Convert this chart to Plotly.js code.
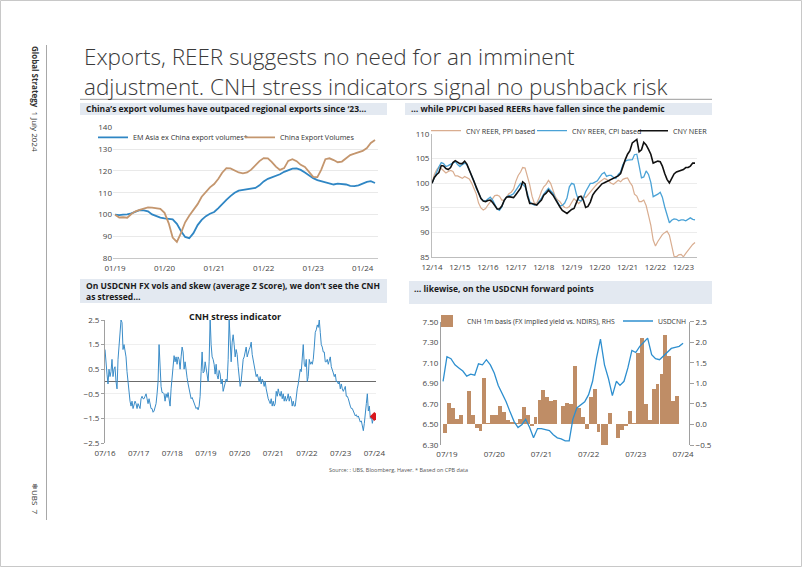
<!DOCTYPE html>
<html><head><meta charset="utf-8">
<script src="https://cdn.plot.ly/plotly-3.0.1.min.js"></script>
<style>html,body{margin:0;padding:0;background:#fff}#chart{width:802px;height:567px}</style>
</head><body><div id="chart"></div><script>
// ---------- DATA ----------
// Chart 1: export volumes, monthly from 01/2019
const c1Start = [2019, 1];
const emAsiaExChina = [100,99.8,100,100.1,100.6,101.4,102.1,102,101.5,100.1,99.2,98.6,98.3,98.2,97.8,95.8,92.5,89.8,89.2,91.5,95.2,97.6,99.3,100.4,101.2,103,105,106.8,108.5,110,111,111.3,111.4,111.6,112.2,113.4,115.2,116.4,117,117.6,118.5,119.6,120.5,121.1,121.2,120.5,119.3,118,116.7,115.8,115.3,114.6,114.2,113.8,114.2,114,113.8,113.2,113.1,113.4,114.2,115,115.3,114.5];
const chinaExportVolumes = [100,98.7,98.8,98.6,100.3,101.5,102.2,102.9,103.3,103.2,103,102.6,100.8,96,89.5,87.5,91.5,96.5,99.5,102.2,104.8,108.2,110.6,112.5,114,116.4,119.2,121.3,121.2,120.3,119.3,118.9,119.3,120.6,122.5,124.5,125.9,125.8,124.2,122,120.5,121.3,124.6,125.4,124.5,122.8,121.8,119.8,117.3,117.2,120.5,125.4,125.8,125,124,124.3,125.8,127.3,127.9,128.6,129.2,130.5,132.8,134.2];

// Chart 2: REER / NEER, monthly from 12/2014
const c2Start = [2014, 12];
const reerPPI = [100,101.8,102.8,103.3,103,102.5,102.1,102.4,102.6,102.4,101.5,101.5,101.2,101,101.4,101.2,100.9,100.1,99.1,97.9,96,95,94.6,94.9,95.6,96.3,96.9,97.5,97.6,97.4,96.6,96.6,97.2,97.9,98.2,98.8,100.4,101.6,102.3,103.2,103.1,101.5,99.7,97.4,95.9,96,97,98.4,99.3,99.8,100.6,100,98.5,97.3,96.6,96.3,95.6,95.1,95,95.3,96.1,96.9,96.4,95.9,96.4,97.4,97.1,97.7,98.4,99,99.4,99.9,100.3,100.7,101,100.8,100.4,100,99.8,100.3,100.6,100.3,100.8,101,101.1,100.2,99.5,97.8,97.4,96.3,96.3,96.6,95.5,93.5,91.5,88.5,87.3,88.2,89,89.6,90,90.3,89.5,87,85.2,85.1,85.5,85.6,85.1,85.8,86.5,87,87.6,88];
const reerCPI = [100,101.3,102.3,103.3,104.2,104,103.4,103.6,103.9,104.2,104.4,103.8,103.4,103.8,104.1,103.8,102.8,101.5,100.5,99,97.8,97,96.5,96.4,96.8,97.2,96.6,95.8,94.8,94.5,95.2,96.5,97.2,97.5,97.6,97.9,98.6,99.5,100,99.8,99.3,98,96.3,95.8,95.6,95.7,96.3,97,97.8,98.3,99,98.5,98,97,96.3,95.4,95.5,96,97,99.3,100,99.8,97.8,96.6,96.4,97,98.3,99.3,100,100,100.3,100.5,101.2,101.9,102.2,101.4,101.6,101.6,101.2,101,101.8,102.3,103.8,104.5,104.7,104.7,104.8,105.8,105.9,103.6,101.1,101.3,102.5,101.8,100.2,97.3,97.5,97.8,98.2,97.2,95.2,93.5,92,92.5,92.8,92.7,92.4,92.6,92.6,92.4,92.8,93,92.7,92.6];
const neer = [100,101.2,101.8,102.2,103.6,103.5,103,102.8,103.2,104.2,104.6,104.2,104,104,104.5,103.9,102.7,101.5,100.2,99.2,98,96.9,96.4,96.3,96.5,96.6,96.1,95.4,94.8,94.8,95.4,96.5,97.2,97.3,97.2,97.1,97.7,98.4,99,100.3,99.9,97.5,95.9,95.9,95.8,95.6,96.1,96.6,97.6,98,98.6,98.2,97.6,96.8,95.9,95.2,94.5,94.1,93.9,94.3,94.7,94.9,96.3,97.2,97.4,96.6,95.1,95.3,96.2,97.6,98.3,98.9,99.4,99.9,100.1,100.3,100.5,100.8,101,101.2,101.5,102,103.6,104.8,105.9,106.6,108.2,108.6,108.9,106.4,106.8,108.3,107.8,106.9,105.9,104.1,104.3,104.5,104.4,103.5,102,100.8,100.1,101,101.9,102.3,102.5,102.7,102.8,103.2,103.2,103.5,104.1,104.1];

// Chart 3: CNH stress indicator (average Z score), sampled every ~11 days from 07/2016
const stressStart = '2016-07-01';
const stressStepMs = 938520000;
const cnhStress = [1.3,0.5,0.3,-0.1,0.5,0.2,0.4,0.9,0.2,0.5,
0.6,0.0,-0.3,0.9,1.6,2.0,2.5,2.4,1.3,1.5,
1.3,1.0,0.4,0.0,-0.6,-0.8,-1.0,-0.8,-1.1,-0.9,
-0.8,-0.9,-1.1,-0.9,-1.05,-1.1,-0.7,-0.6,-0.7,-0.7,
-0.6,-0.5,-0.7,-0.9,-0.7,-1.0,-1.1,-1.1,-1.25,-1.2,
-1.0,-0.9,-0.5,0.0,1.5,0.4,-0.2,-0.45,-0.45,-0.5,
-0.8,-0.5,-0.65,-0.45,-0.7,-1.0,-0.3,0.3,0.7,1.05,
0.8,1.0,0.7,1.0,0.9,0.5,1.0,1.4,1.2,0.5,
0.8,0.4,0.15,-0.1,-0.35,-0.5,-0.7,-0.65,-0.75,-0.85,
-1.0,-1.1,-1.05,-1.15,-1.0,-0.6,0.4,1.2,0.35,0.4,
0.8,0.5,0.1,0.0,0.8,2.6,1.5,1.0,0.9,0.7,
0.3,0.7,0.25,0.1,0.45,0.3,-0.1,0.1,-0.4,-0.2,
-0.1,0.1,0.0,0.9,2.55,1.6,0.8,1.6,1.9,1.5,
1.0,1.3,1.1,0.6,0.1,-0.2,0.0,0.5,0.9,1.0,
1.2,1.4,1.0,1.2,1.3,1.4,1.6,1.1,0.9,0.6,
0.4,0.2,0.3,0.1,0.0,0.2,-0.1,0.1,0.0,-0.2,
0.0,-0.3,-0.6,-0.7,-0.8,-0.9,-0.7,-1.0,-0.8,-1.0,
-0.9,-0.4,-0.6,-0.3,-0.5,-0.6,-0.4,-0.7,-0.5,-0.8,
-0.6,-0.8,-0.7,-0.5,-0.8,-0.6,-0.7,-1.0,-0.8,-1.0,
-1.0,-0.6,-0.3,-0.1,0.3,0.5,0.4,1.2,1.5,0.7,
0.6,0.9,0.0,0.2,0.9,0.7,0.8,0.7,0.9,1.4,
2.0,2.1,2.3,2.2,2.5,2.0,1.5,1.4,1.2,1.2,
0.8,0.8,0.9,0.7,0.9,1.0,0.6,0.5,0.35,0.2,
0.3,0.0,0.0,-0.1,0.0,-0.3,-0.1,-0.3,-0.4,-0.3,
-0.2,-0.6,-0.6,-0.7,-0.9,-1.0,-1.1,-1.1,-1.2,-1.3,
-1.4,-1.35,-1.45,-1.4,-1.5,-1.65,-1.6,-1.85,-2.0,-1.7,
-1.4,-0.9,-0.5,-1.2,-1.0,-1.5,-1.4,-1.7,-1.5,-1.5,
-1.45];
const stressLatestDate = ['2024-07-01'];
const stressLatest = [-1.42];

// Chart 4: CNH 1m basis (monthly bars from 06/2019) and USDCNH (monthly from 06/2019)
const c4Start = [2019, 6];
const cnhBasis = [-0.22,0.52,0.40,0.13,0.23,0.0,0.82,0.23,-0.09,-0.16,1.14,0.03,0.23,0.23,0.44,0.30,0.12,0.05,0.03,0.14,0.43,0.23,-0.04,0.17,0.60,0.84,0.66,0.56,0.60,0.0,0.46,0.52,0.49,1.42,0.39,0.17,-0.11,0.68,0.87,-0.18,-0.55,-0.55,0.27,0.0,-0.32,-0.14,-0.03,0.32,0.03,1.73,2.1,0.5,0.1,0.87,0.99,1.22,2.18,1.67,0.58,0.7];
const usdcnh = [6.92,7.16,7.14,7.08,7.05,7.02,6.97,6.99,6.98,7.09,7.08,7.13,7.08,7.00,6.88,6.80,6.72,6.62,6.53,6.47,6.50,6.55,6.47,6.37,6.46,6.46,6.45,6.44,6.40,6.37,6.36,6.34,6.34,6.55,6.66,6.69,6.72,6.79,6.92,7.15,7.33,7.08,6.95,6.78,6.92,6.88,6.92,7.05,7.22,7.20,7.26,7.30,7.34,7.18,7.14,7.13,7.17,7.21,7.24,7.25,7.26,7.29];

// ---------- helpers ----------
function monthSeq(start, n){
  const out=[];
  for(let i=0;i<n;i++){
    const mm = start[1]-1+i;
    const yy = start[0]+Math.floor(mm/12);
    const mo = (mm%12)+1;
    out.push(yy+'-'+String(mo).padStart(2,'0')+'-01');
  }
  return out;
}
const W=802, H=567;
const X=p=>p/W, Y=p=>1-p/H;
const F='"Open Sans", "Noto Sans", sans-serif';
const tickFont={family:F,size:8,color:'#444'};
const legFont={family:F,size:7.2,color:'#333'};

const c1x = monthSeq(c1Start, emAsiaExChina.length);
const c2x = monthSeq(c2Start, neer.length);
const c4xBars = monthSeq(c4Start, cnhBasis.length);
const c4xLine = monthSeq(c4Start, usdcnh.length);

const data = [
  {type:'scatter',mode:'lines',name:'EM Asia ex China export volumes*',x:c1x,y:emAsiaExChina,xaxis:'x',yaxis:'y',line:{color:'#2f86c4',width:1.8},legend:'legend'},
  {type:'scatter',mode:'lines',name:'China Export Volumes',x:c1x,y:chinaExportVolumes,xaxis:'x',yaxis:'y',line:{color:'#c4966e',width:1.8},legend:'legend2'},

  {type:'scatter',mode:'lines',name:'CNY REER, PPI based',x:c2x,y:reerPPI,xaxis:'x2',yaxis:'y2',line:{color:'#d9ad90',width:1.2},legend:'legend3'},
  {type:'scatter',mode:'lines',name:'CNY REER, CPI based',x:c2x,y:reerCPI,xaxis:'x2',yaxis:'y2',line:{color:'#4aa2d6',width:1.3},legend:'legend4'},
  {type:'scatter',mode:'lines',name:'CNY NEER',x:c2x,y:neer,xaxis:'x2',yaxis:'y2',line:{color:'#111111',width:1.6},legend:'legend5'},

  {type:'scatter',mode:'lines',name:'CNH stress indicator',x0:stressStart,dx:stressStepMs,y:cnhStress,xaxis:'x3',yaxis:'y3',line:{color:'#3a8cc8',width:1},showlegend:false},
  {type:'scatter',mode:'markers',name:'latest',x:stressLatestDate,y:stressLatest,xaxis:'x3',yaxis:'y3',marker:{symbol:'diamond',size:7,color:'#d9171e'},showlegend:false},

  {type:'bar',name:'CNH 1m basis (FX implied yield vs. NDIRS), RHS',x:c4xBars,y:cnhBasis,xperiod:'M1',xperiodalignment:'middle',xaxis:'x4',yaxis:'y4',marker:{color:'#bf8d66',line:{width:0}},width:2600000000,legend:'legend6'},
  {type:'scatter',mode:'lines',name:'USDCNH',x:c4xLine,y:usdcnh,xaxis:'x4',yaxis:'y5',line:{color:'#2e8fcf',width:1.3},legend:'legend7'}
];

const baseX = {type:'date',tickformat:'%m/%y',dtick:'M12',showgrid:false,zeroline:false,ticks:'',tickfont:tickFont,fixedrange:true,ticklabelstandoff:2};
function leg(xPix,yPix,size){
  return {x:X(xPix),y:Y(yPix),xanchor:'left',yanchor:'middle',orientation:'h',font:Object.assign({},legFont,size?{size:size}:{}),bgcolor:'rgba(0,0,0,0)',itemwidth:30};
}
const layout = {
  width:W,height:H,margin:{l:0,r:0,t:0,b:0},
  paper_bgcolor:'#ffffff',plot_bgcolor:'rgba(0,0,0,0)',
  font:{family:F,color:'#333'},
  bargap:0,
  xaxis:Object.assign({},baseX,{domain:[X(113),X(378)],anchor:'y',range:['2018-12-17','2024-04-23'],tick0:'2019-01-01',showline:true,linecolor:'#c8c8c8'}),
  yaxis:{domain:[Y(258.3),Y(127.3)],anchor:'x',range:[80,140],dtick:10,showgrid:true,gridcolor:'#e9e9e9',showline:false,zeroline:false,tickfont:tickFont,fixedrange:true},

  xaxis2:Object.assign({},baseX,{domain:[X(432),X(697)],anchor:'y2',range:['2014-12-01','2024-05-27'],tick0:'2014-12-01',showline:true,linecolor:'#bdbdbd'}),
  yaxis2:{domain:[Y(257.3),Y(134)],anchor:'x2',range:[85,110],dtick:5,showgrid:true,gridcolor:'#ececec',showline:true,linecolor:'#bdbdbd',zeroline:false,tickfont:tickFont,fixedrange:true},

  xaxis3:Object.assign({},baseX,{domain:[X(105),X(376)],anchor:'y3',range:['2016-07-01','2024-07-19'],tick0:'2016-07-01',showline:false,ticklabelstandoff:4}),
  yaxis3:{domain:[Y(443),Y(320)],anchor:'x3',range:[-2.5,2.5],tick0:-2.5,dtick:1,tickformat:'.1f',showgrid:true,gridcolor:'#efefef',showline:true,linecolor:'#a0a0a0',ticks:'outside',ticklen:3,tickcolor:'#a0a0a0',zeroline:true,zerolinecolor:'#6b6b6b',zerolinewidth:1,tickfont:tickFont,fixedrange:true},

  xaxis4:Object.assign({},baseX,{domain:[X(441),X(689)],anchor:'y4',range:['2019-05-16','2024-08-16'],tick0:'2019-07-01',showline:false,ticklabelstandoff:3}),
  yaxis4:{domain:[Y(445),Y(321.7)],anchor:'x4',side:'right',range:[-0.5,2.5],tick0:-0.5,dtick:0.5,tickformat:'.1f',showgrid:false,showline:true,linecolor:'#a0a0a0',ticks:'outside',ticklen:4,tickcolor:'#a0a0a0',zeroline:false,tickfont:tickFont,fixedrange:true},
  yaxis5:{overlaying:'y4',anchor:'x4',side:'left',range:[6.3,7.5],tick0:6.3,dtick:0.2,tickformat:'.2f',showgrid:false,showline:true,linecolor:'#a0a0a0',ticks:'',zeroline:false,tickfont:tickFont,fixedrange:true},

  legend:leg(93,137.3),
  legend2:leg(240,137.3),
  legend3:leg(426,130.7),
  legend4:leg(532,130.7),
  legend5:leg(633,130.7),
  legend6:leg(427,321,6.8),
  legend7:leg(618,321,6.8),

  shapes:[
    {type:'rect',xref:'paper',yref:'paper',x0:X(0.5),x1:X(801.5),y0:Y(566.5),y1:Y(0.5),line:{color:'#c8c8c8',width:1},fillcolor:'rgba(0,0,0,0)'},
    {type:'line',xref:'paper',yref:'paper',x0:X(46.5),x1:X(46.5),y0:Y(45),y1:Y(520),line:{color:'#a8a8a8',width:1}},
    {type:'line',xref:'paper',yref:'paper',x0:X(80),x1:X(712),y0:Y(99.3),y1:Y(99.3),line:{color:'#9a9a9a',width:1}},
    {type:'rect',xref:'paper',yref:'paper',layer:'below',x0:X(80),x1:X(387),y0:Y(115),y1:Y(103),fillcolor:'#e3e9f1',line:{width:0}},
    {type:'rect',xref:'paper',yref:'paper',layer:'below',x0:X(405),x1:X(712),y0:Y(115),y1:Y(103),fillcolor:'#e3e9f1',line:{width:0}},
    {type:'rect',xref:'paper',yref:'paper',layer:'below',x0:X(80),x1:X(387),y0:Y(303),y1:Y(279),fillcolor:'#e3e9f1',line:{width:0}},
    {type:'rect',xref:'paper',yref:'paper',layer:'below',x0:X(409),x1:X(712),y0:Y(304),y1:Y(281),fillcolor:'#e3e9f1',line:{width:0}}
  ],
  annotations:[
    {xref:'paper',yref:'paper',x:X(83),y:Y(56.5),xanchor:'left',yanchor:'middle',showarrow:false,align:'left',borderpad:0,text:'Exports, REER suggests no need for an imminent',font:{family:F,size:22.5,color:'#3a3a3a',weight:300}},
    {xref:'paper',yref:'paper',x:X(83),y:Y(86.5),xanchor:'left',yanchor:'middle',showarrow:false,align:'left',borderpad:0,text:'adjustment. CNH stress indicators signal no pushback risk',font:{family:F,size:22.5,color:'#3a3a3a',weight:300}},

    {xref:'paper',yref:'paper',x:X(84),y:Y(109),xanchor:'left',yanchor:'middle',showarrow:false,text:'<b>China’s export volumes have outpaced regional exports since ‘23…</b>',font:{family:F,size:8.5,color:'#1a1a1a'}},
    {xref:'paper',yref:'paper',x:X(409),y:Y(109),xanchor:'left',yanchor:'middle',showarrow:false,text:'<b>… while PPI/CPI based REERs have fallen since the pandemic</b>',font:{family:F,size:8.5,color:'#1a1a1a'}},
    {xref:'paper',yref:'paper',x:X(84),y:Y(291),xanchor:'left',yanchor:'middle',showarrow:false,align:'left',text:'<b>On USDCNH FX vols and skew (average Z Score), we don’t see the CNH<br>as stressed…</b>',font:{family:F,size:8.5,color:'#1a1a1a'}},
    {xref:'paper',yref:'paper',x:X(412),y:Y(288),xanchor:'left',yanchor:'middle',showarrow:false,text:'<b>… likewise, on the USDCNH forward points</b>',font:{family:F,size:8.5,color:'#1a1a1a'}},

    {xref:'paper',yref:'paper',x:X(235),y:Y(316),xanchor:'center',yanchor:'middle',showarrow:false,text:'<b>CNH stress indicator</b>',font:{family:F,size:9,color:'#1a1a1a'}},

    {xref:'paper',yref:'paper',x:X(398),y:Y(470),xanchor:'center',yanchor:'middle',showarrow:false,text:'Source: : UBS, Bloomberg, Haver. * Based on CPB data',font:{family:F,size:5.5,color:'#555'}},

    {xref:'paper',yref:'paper',x:X(36),y:Y(44),xanchor:'center',yanchor:'top',showarrow:false,textangle:90,text:'<b>Global Strategy</b>  1 July 2024',font:{family:F,size:8,color:'#333'}},
    {xref:'paper',yref:'paper',x:X(36),y:Y(517),xanchor:'center',yanchor:'bottom',showarrow:false,textangle:90,text:'❄UBS  7',font:{family:F,size:8,color:'#333'}}
  ]
};

Plotly.newPlot('chart', data, layout, {displayModeBar:false, staticPlot:true});
</script></body></html>
